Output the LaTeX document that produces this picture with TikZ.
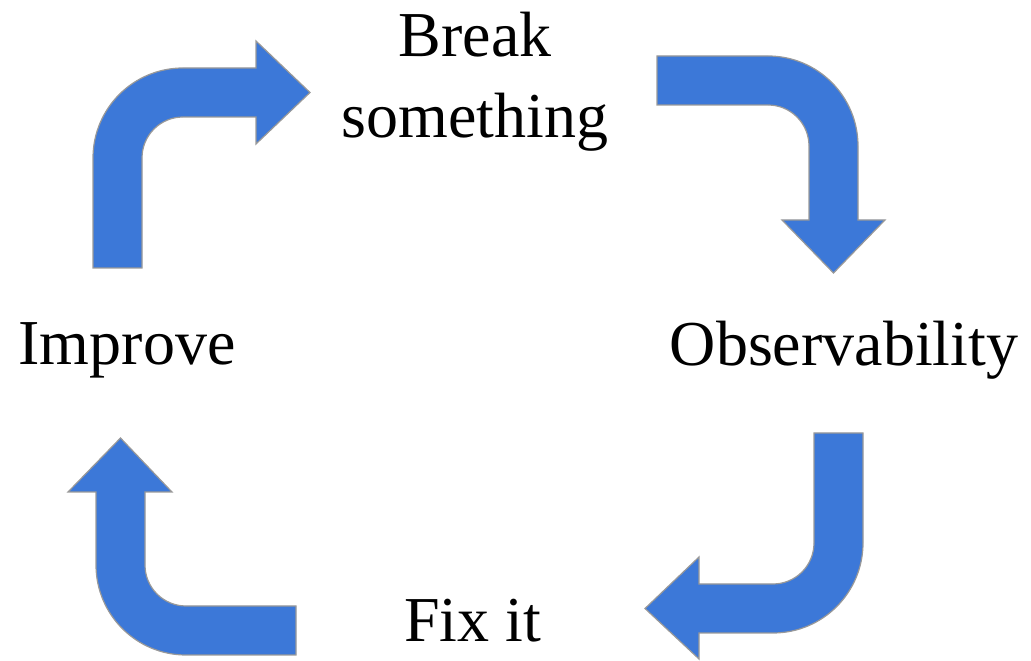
\documentclass[tikz,border=0pt]{standalone}
\usepackage{fontspec}
\setmainfont{Liberation Serif}
\usepackage{tikz}
\usetikzlibrary{positioning}
\definecolor{cycleblue}{HTML}{3C78D8}
\definecolor{cyclegray}{HTML}{999999}
\pgfdeclarelayer{nodelayer}
\pgfdeclarelayer{edgelayer}
\pgfsetlayers{edgelayer,nodelayer,main}
\tikzstyle{none}=[inner sep=0pt]
\tikzset{bent/.style={fill=cycleblue, draw=cyclegray, line width=1.2pt, line join=miter}}
\tikzset{step label/.style={font=\fontsize{64}{81}\selectfont, align=center, anchor=base}}

\begin{document}
\begin{tikzpicture}[x=1pt, y=1pt]
        \useasboundingbox (0,0) rectangle (1031,661);
        \begin{pgfonlayer}{nodelayer}
            \node [style=none, step label] (0) at (475, 523) {Break\\something};
            \node [style=none, step label] (1) at (844, 295) {Observability};
            \node [style=none, step label] (2) at (472.5, 19) {Fix it};
            \node [style=none, step label] (3) at (127, 296) {Improve};
        \end{pgfonlayer}
        \begin{pgfonlayer}{edgelayer}
            % improve -> break something
            \draw [style=bent] (93,393) -- (93,503) arc (180:90:90) -- (256,593) -- (256,620)
                -- (310,568.5) -- (256,517) -- (256,544) -- (183,544) arc (90:180:41)
                -- (142,393) -- cycle;
            % break something -> observability
            \draw [style=bent] (657,605) -- (768,605) arc (90:0:90) -- (858,441) -- (885,441)
                -- (833.5,388) -- (782,441) -- (809,441) -- (809,515) arc (0:90:41)
                -- (657,556) -- cycle;
            % observability -> fix it
            \draw [style=bent] (863,228) -- (863,118) arc (0:-90:90) -- (699,28) -- (699,2)
                -- (645,52.5) -- (699,104) -- (699,77) -- (773,77) arc (-90:0:41)
                -- (814,228) -- cycle;
            % fix it -> improve
            \draw [style=bent] (296,6) -- (186,6) arc (270:180:90) -- (96,169) -- (68,169)
                -- (120.5,223) -- (172,169) -- (145,169) -- (145,96) arc (180:270:41)
                -- (296,55) -- cycle;
        \end{pgfonlayer}
\end{tikzpicture}
\end{document}
